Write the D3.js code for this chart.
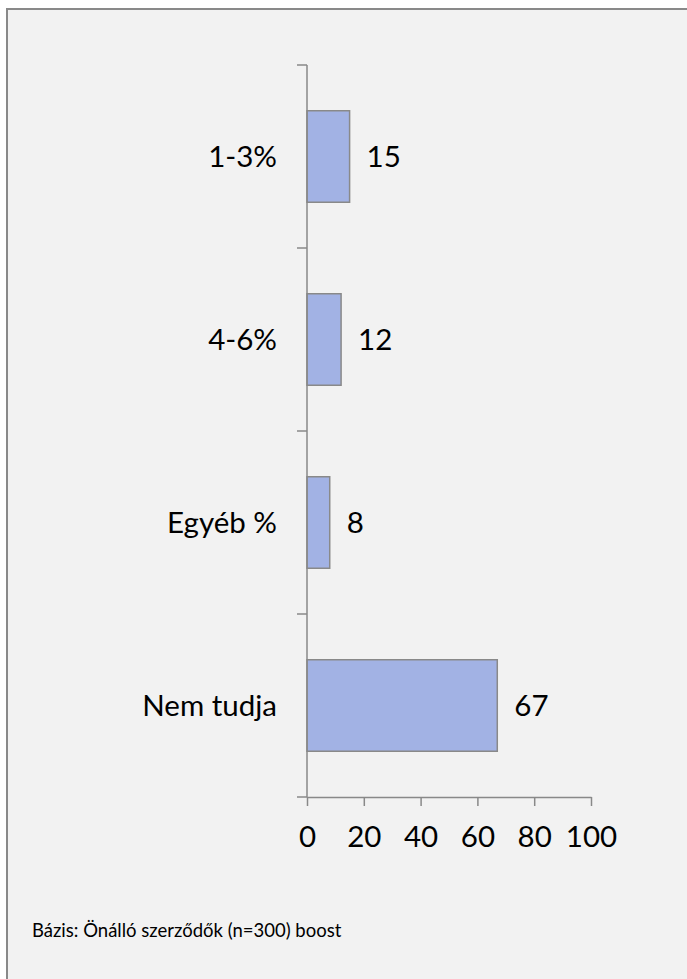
<!DOCTYPE html>
<html>
<head>
<meta charset="utf-8">
<script src="https://cdn.jsdelivr.net/npm/d3@7/dist/d3.min.js"></script>
<style>
  html, body { margin: 0; padding: 0; background: #ffffff; }
  svg { display: block; }
  text { font-family: Lato, "Open Sans", sans-serif; fill: #000; }
</style>
</head>
<body>
<svg id="chart" width="687" height="979"></svg>
<script>
// Answer categories and their shares (%)
const categories = ["1-3%", "4-6%", "Egyéb %", "Nem tudja"];
const values = [15, 12, 8, 67];
const xTicks = [0, 20, 40, 60, 80, 100];
const footnote = "Bázis: Önálló szerződők (n=300) boost";

const svg = d3.select("#chart");
const W = 687, H = 979;
const labelSize = 29.5;

// Panel with grey frame (right and bottom edges run past the canvas)
svg.append("rect")
  .attr("x", 7).attr("y", 9)
  .attr("width", W + 10).attr("height", H + 10)
  .attr("fill", "#f2f2f2")
  .attr("stroke", "#898989")
  .attr("stroke-width", 2);

const plot = { left: 307, right: 591, top: 65, bottom: 797 };

const x = d3.scaleLinear().domain([0, 100]).range([plot.left, plot.right]);
const y = d3.scaleBand().domain(categories).range([plot.top, plot.bottom]).paddingInner(0.5).paddingOuter(0.25);
const yBands = d3.scaleBand().domain(categories).range([plot.top, plot.bottom]);

const axisColor = "#898989";

// Bars
svg.append("g").selectAll("rect")
  .data(categories)
  .join("rect")
  .attr("x", x(0))
  .attr("y", d => y(d))
  .attr("width", (d, i) => x(values[i]) - x(0))
  .attr("height", y.bandwidth())
  .attr("fill", "#a2b2e4")
  .attr("stroke", axisColor)
  .attr("stroke-width", 1.5);

// Category axis: line with ticks at band boundaries
const yAxis = svg.append("g");
yAxis.append("line")
  .attr("x1", plot.left).attr("x2", plot.left)
  .attr("y1", plot.top).attr("y2", plot.bottom)
  .attr("stroke", axisColor).attr("stroke-width", 1.5);
const boundaries = categories.map(c => yBands(c)).concat([plot.bottom]);
yAxis.selectAll("line.tick")
  .data(boundaries)
  .join("line")
  .attr("class", "tick")
  .attr("x1", plot.left - 10).attr("x2", plot.left)
  .attr("y1", d => d).attr("y2", d => d)
  .attr("stroke", axisColor).attr("stroke-width", 1.5);
yAxis.selectAll("text")
  .data(categories)
  .join("text")
  .attr("x", 277)
  .attr("y", d => yBands(d) + yBands.bandwidth() / 2)
  .attr("dy", "0.36em")
  .attr("text-anchor", "end")
  .attr("font-size", labelSize)
  .text(d => d);

// Value axis
const xAxis = svg.append("g")
  .attr("transform", `translate(0,${plot.bottom})`)
  .call(d3.axisBottom(x).tickValues(xTicks).tickSize(9).tickSizeOuter(0).tickPadding(20));
xAxis.select(".domain").attr("stroke", axisColor).attr("stroke-width", 1.5);
xAxis.selectAll(".tick line").attr("stroke", axisColor).attr("stroke-width", 1.5);
xAxis.selectAll(".tick text")
  .attr("font-size", labelSize)
  .attr("font-family", "Lato, 'Open Sans', sans-serif")
  .attr("fill", "#000");

// Value labels
svg.append("g").selectAll("text")
  .data(categories)
  .join("text")
  .attr("x", (d, i) => x(values[i]) + 17)
  .attr("y", d => yBands(d) + yBands.bandwidth() / 2)
  .attr("dy", "0.36em")
  .attr("font-size", labelSize)
  .text((d, i) => values[i]);

// Footnote
svg.append("text")
  .attr("x", 32).attr("y", 937)
  .attr("font-size", 18.5)
  .text(footnote);
</script>
</body>
</html>
